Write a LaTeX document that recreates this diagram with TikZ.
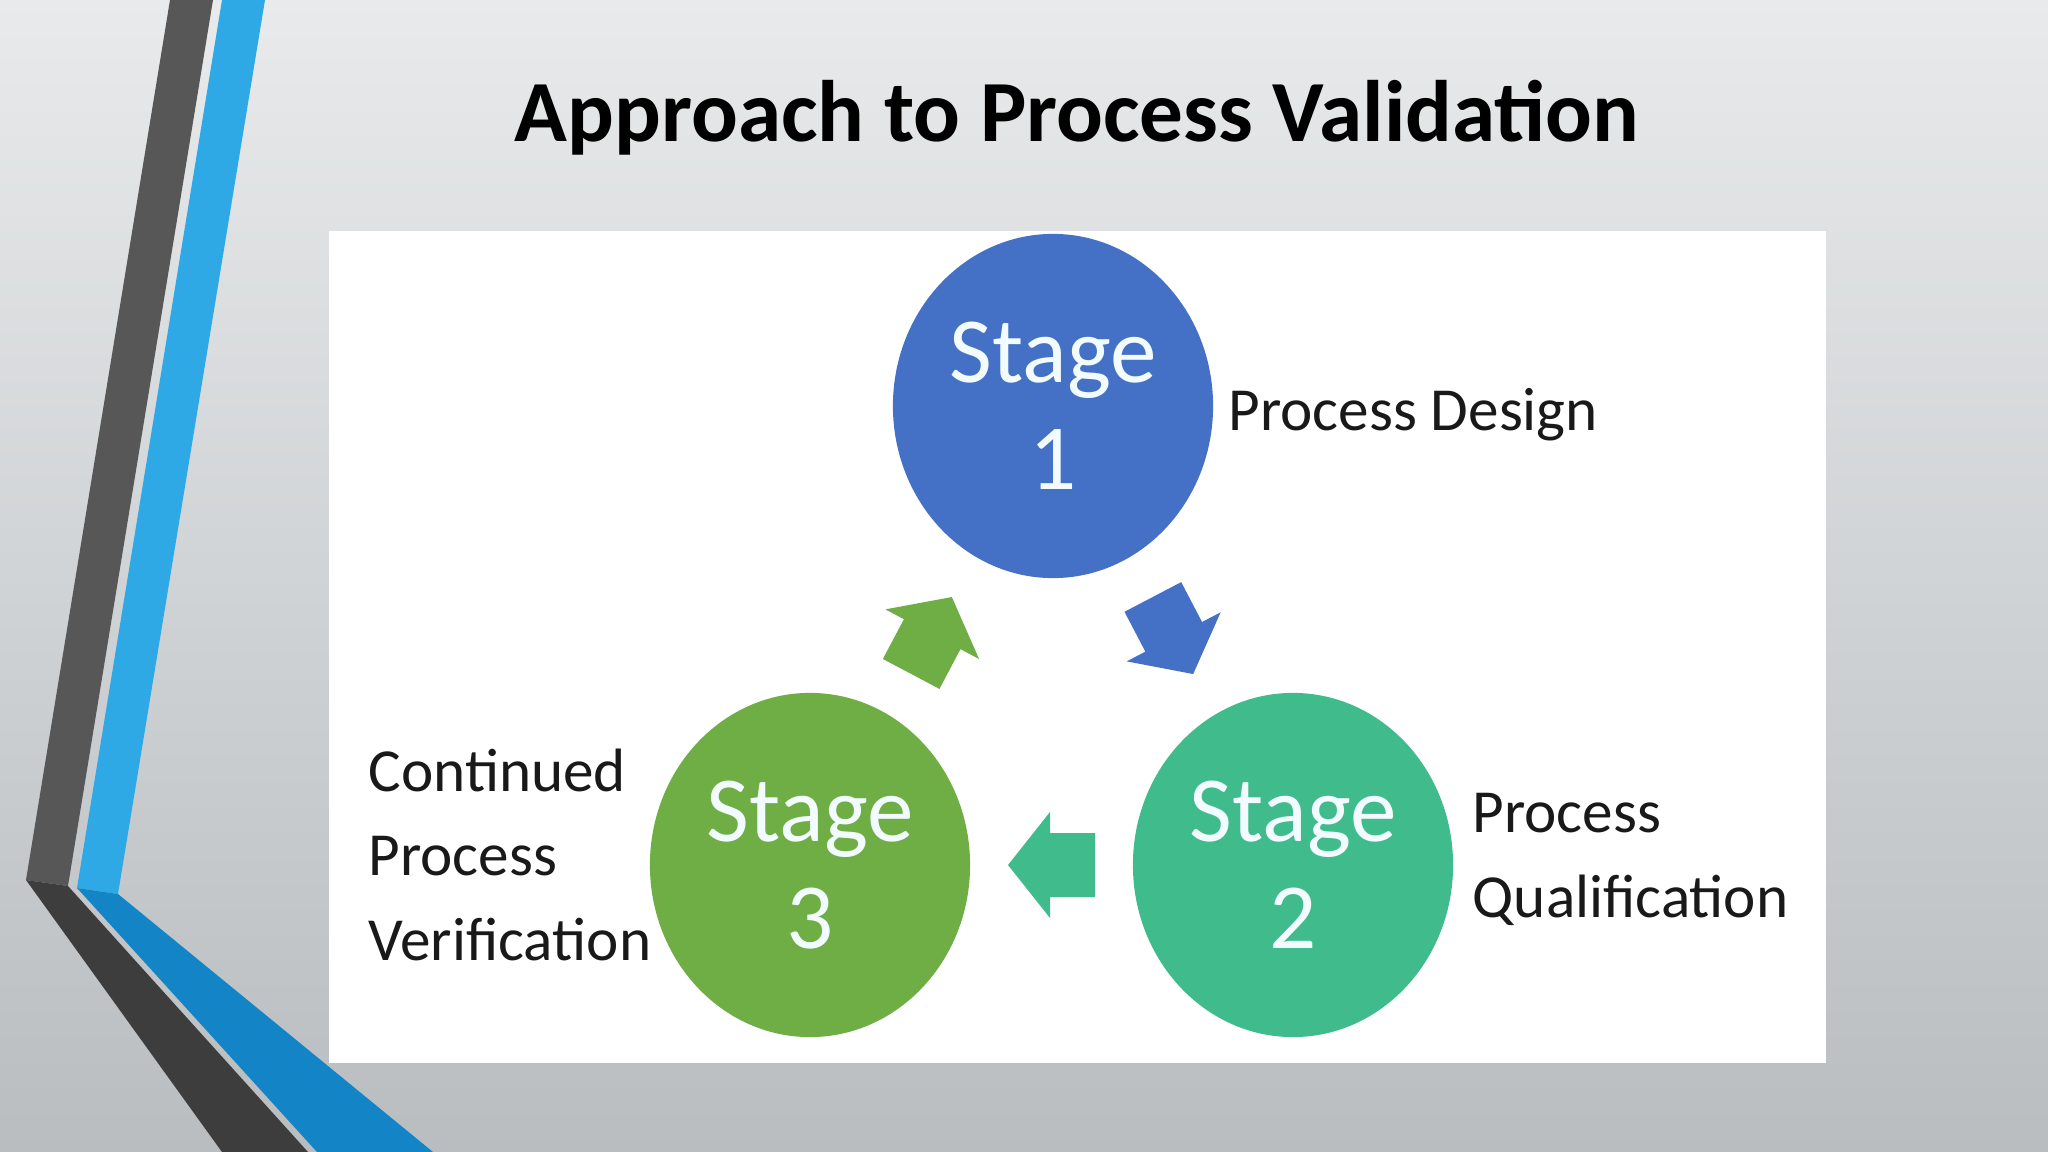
\documentclass[tikz,border=0pt]{standalone}
\usepackage{fontspec}
\setmainfont{Carlito}
\usepackage{tikz}
\usetikzlibrary{shapes.geometric}
\usetikzlibrary{calc}
\definecolor{sblue}{HTML}{4470C6}
\definecolor{steal}{HTML}{3FBB8C}
\definecolor{sgreen}{HTML}{6FAD45}
\definecolor{dgray}{HTML}{575757}
\definecolor{dgraylow}{HTML}{3D3D3D}
\definecolor{lblue}{HTML}{2FA9E6}
\definecolor{lbluelow}{HTML}{1384C6}
\definecolor{bgtop}{HTML}{E8EAEB}
\definecolor{bgbot}{HTML}{B9BDC0}

\tikzset{
  stage/.style={ellipse, minimum width=3.2cm, minimum height=3.44cm, inner sep=0pt,
    align=center, text=white!95!cyan, font=\fontsize{26.5}{30.5}\selectfont},
  lbl/.style={align=left, inner sep=0pt, text=black!90, font=\fontsize{17.4}{23.9}\selectfont},
  blockarrow/.pic={\fill (-43.5,-32) -- (1.5,-32) -- (1.5,-53) -- (43.5,0) -- (1.5,53) -- (1.5,32) -- (-43.5,32) -- cycle;}
}

\begin{document}
\begin{tikzpicture}[x=0.01cm, y=-0.01cm]
    \useasboundingbox (0,0) rectangle (2048,1152);
    \shade [top color=bgtop, bottom color=bgbot] (0,0) rectangle (2048,1152);

    % bars on the left
    \fill [dgray] (170,0) -- (213,0) -- (68,886) -- (26,880) -- cycle;
    \fill [dgraylow] (26,880) -- (68,886) -- (308,1152) -- (222,1152) -- cycle;
    \fill [lblue] (222,0) -- (265,0) -- (118,894) -- (77,888) -- cycle;
    \fill [lbluelow] (77,888) -- (118,894) -- (433,1152) -- (317,1152) -- cycle;

    \fill [white] (329,231) rectangle (1826,1063);

    \node [font=\bfseries\fontsize{24.8}{30}\selectfont, anchor=base] (title) at (1077,142) {Approach to Process Validation};

    \node [stage, fill=sblue] (s1) at (1053,406) {Stage\\1};
    \node [stage, fill=steal] (s2) at (1293,865) {Stage\\2};
    \node [stage, fill=sgreen] (s3) at (810,865) {Stage\\3};

    \pic [shift={($(s1)!.5!(s2)$)}, rotate=-62.4, fill=sblue] {blockarrow};
    \pic [shift={($(s2)!.5!(s3)$)}, rotate=180, fill=steal] {blockarrow};
    \pic [shift={($(s3)!.5!(s1)$)}, rotate=62.1, fill=sgreen] {blockarrow};

    \node [lbl, anchor=base west] (d1) at (1228,431) {Process Design};
    \node [lbl, anchor=base west] (d2) at (1472,917) {Process\\Qualification};
    \node [lbl, anchor=base west] (d3) at (368,960) {Continued\\Process\\Verification};
\end{tikzpicture}
\end{document}
